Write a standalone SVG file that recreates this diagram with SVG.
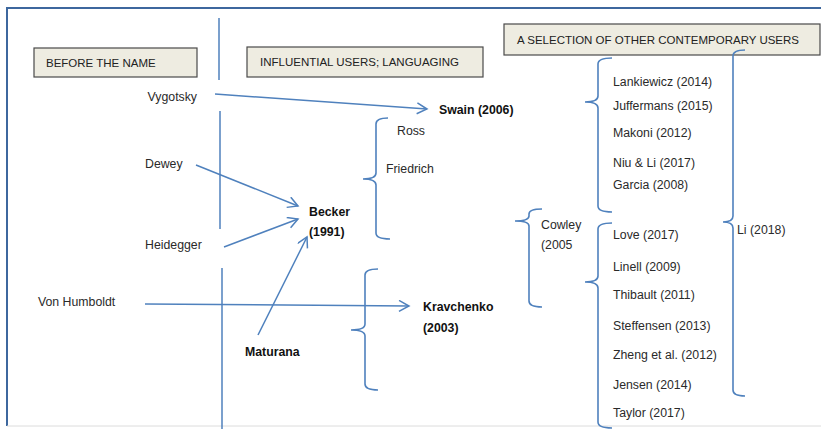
<svg xmlns="http://www.w3.org/2000/svg" width="821" height="429" viewBox="0 0 821 429">
<defs>
<marker id="arr" markerUnits="userSpaceOnUse" markerWidth="14" markerHeight="14" refX="11" refY="6" orient="auto">
<path d="M1,0.5 L11,6 L1,11.5" fill="none" stroke="#4f81bd" stroke-width="1.5"/>
</marker>
</defs>
<style>
.t{font-family:"Liberation Sans",Arial,sans-serif;font-size:12.3px;fill:#2a2a2a}
.b{font-weight:bold;fill:#111}
.h{font-family:"Liberation Sans",Arial,sans-serif;font-size:11.5px;fill:#222}
.hb{fill:#eeece1;stroke:#4a4a4a;stroke-width:1.2}
.ln{fill:none;stroke:#4f81bd;stroke-width:1.5}
.br{fill:none;stroke:#4f81bd;stroke-width:1.6}
</style>
<rect width="821" height="429" fill="#fff"/>
<g id="frame">
<path d="M7,426 L7,8 L821,8" fill="none" stroke="#3d679e" stroke-width="2"/>
<line x1="7" y1="426" x2="821" y2="426" stroke="#dcdcdc" stroke-width="1"/>
</g>
<g id="dividers">
<line class="ln" x1="219" y1="18" x2="219" y2="80"/>
<line class="ln" x1="220" y1="111" x2="220" y2="229"/>
<line class="ln" x1="222" y1="268" x2="222" y2="429"/>
</g>
<g id="header-before">
<rect class="hb" x="34" y="48" width="163" height="29"/>
<text class="h" x="46" y="66.5">BEFORE THE NAME</text>
</g>
<g id="header-influential">
<rect class="hb" x="247" y="47" width="236" height="30"/>
<text class="h" x="260" y="66">INFLUENTIAL USERS; LANGUAGING</text>
</g>
<g id="header-selection">
<rect class="hb" x="504" y="24" width="316" height="31"/>
<text class="h" x="517" y="44">A SELECTION OF OTHER CONTEMPORARY USERS</text>
</g>
<g id="vygotsky"><text class="t" x="197" y="101" text-anchor="end">Vygotsky</text></g>
<g id="dewey"><text class="t" x="145" y="168">Dewey</text></g>
<g id="heidegger"><text class="t" x="145" y="249">Heidegger</text></g>
<g id="humboldt"><text class="t" x="38" y="306">Von Humboldt</text></g>
<g id="maturana"><text class="t b" x="245" y="356">Maturana</text></g>
<g id="swain"><text class="t b" x="439" y="114">Swain (2006)</text></g>
<g id="becker"><text class="t b" x="309" y="216">Becker</text><text class="t b" x="309" y="236">(1991)</text></g>
<g id="kravchenko"><text class="t b" x="423" y="311">Kravchenko</text><text class="t b" x="423" y="332">(2003)</text></g>
<g id="ross"><text class="t" x="397" y="135">Ross</text></g>
<g id="friedrich"><text class="t" x="386" y="173">Friedrich</text></g>
<g id="cowley"><text class="t" x="541" y="229">Cowley</text><text class="t" x="541" y="249">(2005</text></g>
<g id="group-upper">
<text class="t" x="613" y="86">Lankiewicz (2014)</text>
<text class="t" x="613" y="110">Juffermans (2015)</text>
<text class="t" x="613" y="137">Makoni (2012)</text>
<text class="t" x="613" y="167">Niu &amp; Li (2017)</text>
<text class="t" x="613" y="189">Garcia (2008)</text>
</g>
<g id="group-lower">
<text class="t" x="613" y="239">Love (2017)</text>
<text class="t" x="613" y="271">Linell (2009)</text>
<text class="t" x="613" y="299">Thibault (2011)</text>
<text class="t" x="613" y="330">Steffensen (2013)</text>
<text class="t" x="613" y="359">Zheng et al. (2012)</text>
<text class="t" x="613" y="389">Jensen (2014)</text>
<text class="t" x="613" y="417">Taylor (2017)</text>
</g>
<g id="li"><text class="t" x="737" y="234">Li (2018)</text></g>
<g id="connectors">
<line class="ln" x1="215" y1="94" x2="427" y2="109" marker-end="url(#arr)"/>
<line class="ln" x1="196" y1="165" x2="298" y2="206" marker-end="url(#arr)"/>
<line class="ln" x1="224" y1="247" x2="298" y2="219" marker-end="url(#arr)"/>
<line class="ln" x1="258" y1="335" x2="307" y2="237" marker-end="url(#arr)"/>
<line class="ln" x1="145" y1="304" x2="409" y2="306" marker-end="url(#arr)"/>
<path class="br" d="M388,118 Q376,118 376,124 L376,173 Q376,179 363,179 Q376,179 376,185 L376,233 Q376,239 390,239"/>
<path class="br" d="M378,269 Q365,269 365,275 L365,324 Q365,330 351,330 Q365,330 365,336 L365,384 Q365,390 378,390"/>
<path class="br" d="M542,209 Q529,209 529,214 L529,216 Q529,221 515,221 Q529,221 529,226 L529,301 Q529,307 542,307"/>
<path class="br" d="M612,58 Q598,58 598,64 L598,96 Q598,102 585,102 Q598,102 598,108 L598,206 Q598,212 612,212"/>
<path class="br" d="M612,223 Q598,223 598,229 L598,276 Q598,282 585,282 Q598,282 598,288 L598,422 Q598,428 612,428"/>
<path class="br" d="M745,50 Q733,50 733,56 L733,216 Q733,222 723,222 Q733,222 733,228 L733,390 Q733,396 745,396"/>
</g>
</svg>
